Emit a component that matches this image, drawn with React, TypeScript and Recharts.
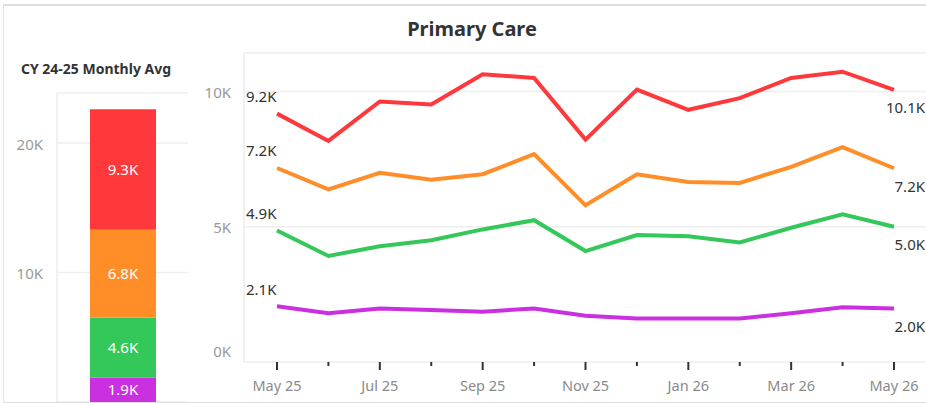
import React from 'react';
import { BarChart, Bar, LineChart, Line, XAxis, YAxis, CartesianGrid, LabelList } from 'recharts';

const months = ['May 25', 'Jun 25', 'Jul 25', 'Aug 25', 'Sep 25', 'Oct 25', 'Nov 25', 'Dec 25', 'Jan 26', 'Feb 26', 'Mar 26', 'Apr 26', 'May 26'];
const redSeries = [9180, 8170, 9630, 9520, 10630, 10500, 8220, 10070, 9320, 9750, 10500, 10730, 10060];
const orangeSeries = [7170, 6380, 6990, 6740, 6940, 7680, 5790, 6940, 6650, 6620, 7210, 7940, 7160];
const greenSeries = [4860, 3920, 4280, 4500, 4900, 5240, 4100, 4690, 4650, 4420, 4960, 5460, 5000];
const purpleSeries = [2060, 1800, 1980, 1920, 1860, 1980, 1710, 1610, 1610, 1610, 1800, 2020, 1980];

const avgPurple = 1900;
const avgGreen = 4600;
const avgOrange = 6800;
const avgRed = 9300;

const lineTicks = [0, 5000, 10000];
const barTicks = [0, 10000, 20000];

const RED = '#FF383C';
const ORANGE = '#FF8D28';
const GREEN = '#34C759';
const PURPLE = '#CB30E0';

const FONT = '"Noto Sans", sans-serif';

const lineData = months.map((m, i) => ({
  month: m,
  red: redSeries[i],
  orange: orangeSeries[i],
  green: greenSeries[i],
  purple: purpleSeries[i],
}));

const barData = [{ name: 'avg', purple: avgPurple, green: avgGreen, orange: avgOrange, red: avgRed }];

const fmtK = (v: number) => (v / 1000).toFixed(1) + 'K';
const fmtAxis = (v: number) => v / 1000 + 'K';

const n = months.length;
const endLabel = (props: any) => {
  const { x, y, value, index } = props;
  if (index === 0) {
    return (
      <text x={x - 31} y={y - 17} dy="0.35em" textAnchor="start" fill="#333" fontSize={15} fontFamily={FONT}>
        {fmtK(value)}
      </text>
    );
  }
  if (index === n - 1) {
    return (
      <text x={x + 31} y={y + 18} dy="0.35em" textAnchor="end" fill="#333" fontSize={15} fontFamily={FONT}>
        {fmtK(value)}
      </text>
    );
  }
  return null;
};

const MonthTick = (props: any) => {
  const { x, y, payload, index } = props;
  const major = index % 2 === 0;
  return (
    <g>
      <line x1={x} x2={x} y1={y} y2={y + (major ? 8 : 4)} stroke="#333" strokeWidth={2} />
      {major && (
        <text x={x} y={y + 24} dy="0.35em" textAnchor="middle" fill="#8a8a8a" fontSize={14.5} fontFamily={FONT}>
          {payload.value}
        </text>
      )}
    </g>
  );
};

const ValueTick = (props: any) => {
  const { x, y, payload } = props;
  const shift = payload.value === 0 ? -10 : 1.5;
  return (
    <text x={x} y={y + shift} dy="0.35em" textAnchor="end" fill="#999" fontSize={15} fontFamily={FONT}>
      {fmtAxis(payload.value)}
    </text>
  );
};

export default function App() {
  return (
    <div style={{ position: 'absolute', left: 0, top: 0, width: 926, height: 403, background: '#fff', overflow: 'hidden', fontFamily: FONT }}>
      <div style={{ position: 'absolute', left: 272, top: 16, width: 400, textAlign: 'center', fontSize: 20, fontWeight: 700, lineHeight: '26px', color: '#333' }}>
        Primary Care
      </div>
      <div style={{ position: 'absolute', left: 0, top: 60, width: 192, textAlign: 'center', fontSize: 14, fontWeight: 700, lineHeight: '18px', color: '#333' }}>
        CY 24-25 Monthly Avg
      </div>

      <div style={{ position: 'absolute', left: 0, top: 0 }}>
        <BarChart width={200} height={403} data={barData} margin={{ top: 93, right: 12, bottom: 1, left: 0 }}>
          <CartesianGrid horizontal vertical={false} stroke="#efefef" strokeWidth={1.5} />
          <XAxis dataKey="name" type="category" hide />
          <YAxis
            width={57}
            domain={[0, 23860]}
            ticks={barTicks}
            tickLine={false}
            tickSize={0}
            tickMargin={14}
            axisLine={{ stroke: '#ececec', strokeWidth: 1.5 }}
            tick={<ValueTick />}
          />
          <Bar dataKey="purple" stackId="a" fill={PURPLE} barSize={66} isAnimationActive={false}>
            <LabelList dataKey="purple" position="center" fill="#fff" fontSize={15} fontFamily={FONT} formatter={(v: any) => fmtK(Number(v))} />
          </Bar>
          <Bar dataKey="green" stackId="a" fill={GREEN} barSize={66} isAnimationActive={false}>
            <LabelList dataKey="green" position="center" fill="#fff" fontSize={15} fontFamily={FONT} formatter={(v: any) => fmtK(Number(v))} />
          </Bar>
          <Bar dataKey="orange" stackId="a" fill={ORANGE} barSize={66} isAnimationActive={false}>
            <LabelList dataKey="orange" position="center" fill="#fff" fontSize={15} fontFamily={FONT} formatter={(v: any) => fmtK(Number(v))} />
          </Bar>
          <Bar dataKey="red" stackId="a" fill={RED} barSize={66} isAnimationActive={false}>
            <LabelList dataKey="red" position="center" fill="#fff" fontSize={15} fontFamily={FONT} formatter={(v: any) => fmtK(Number(v))} />
          </Bar>
        </BarChart>
      </div>

      <div style={{ position: 'absolute', left: 190, top: 0 }}>
        <LineChart width={736} height={403} data={lineData} margin={{ top: 53, right: 0, bottom: 0, left: 0 }}>
          <CartesianGrid horizontal vertical={false} stroke="#eeeeee" strokeWidth={1.5} />
          <XAxis
            dataKey="month"
            type="category"
            height={41}
            interval={0}
            padding={{ left: 33, right: 32 }}
            axisLine={false}
            tickLine={false}
            tickSize={0}
            tickMargin={0}
            tick={<MonthTick />}
          />
          <YAxis
            width={54}
            domain={[0, 11420]}
            ticks={lineTicks}
            tickLine={false}
            tickSize={0}
            tickMargin={13}
            axisLine={{ stroke: '#ececec', strokeWidth: 1.5 }}
            tick={<ValueTick />}
          />
          <Line dataKey="purple" stroke={PURPLE} strokeWidth={4} dot={false} isAnimationActive={false}>
            <LabelList dataKey="purple" content={endLabel} />
          </Line>
          <Line dataKey="green" stroke={GREEN} strokeWidth={4} dot={false} isAnimationActive={false}>
            <LabelList dataKey="green" content={endLabel} />
          </Line>
          <Line dataKey="orange" stroke={ORANGE} strokeWidth={4} dot={false} isAnimationActive={false}>
            <LabelList dataKey="orange" content={endLabel} />
          </Line>
          <Line dataKey="red" stroke={RED} strokeWidth={4} dot={false} isAnimationActive={false}>
            <LabelList dataKey="red" content={endLabel} />
          </Line>
        </LineChart>
      </div>

      <div style={{ position: 'absolute', left: 3, top: 4, width: 940, height: 396, borderTop: '2px solid #dedede', borderLeft: '1.5px solid #e4e4e4', borderBottom: '2px solid #dedede', pointerEvents: 'none' }} />
    </div>
  );
}
